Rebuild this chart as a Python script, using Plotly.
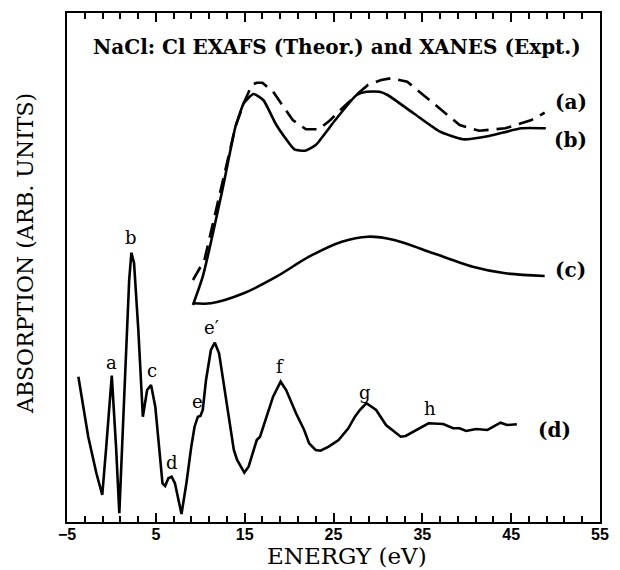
import plotly.graph_objects as go

# ---- Data (energy in eV, absorption in arbitrary units) ----
# (d) experimental XANES
d_energy = [-3.72, -2.79, -2.61, -1.69, -1.03, -0.58, 0.04, 0.52, 0.89, 1.44, 2.0, 2.25, 2.55,
            3.03, 3.28, 3.54, 4.02, 4.46, 4.94, 5.49, 5.75, 6.05, 6.41, 6.78, 7.15, 7.89, 8.44,
            8.99, 9.36, 9.73, 10.02, 10.28, 10.65, 11.2, 11.64, 12.12, 12.68, 13.41, 13.78, 14.15,
            14.96, 15.44, 16.36, 16.73, 17.46, 18.2, 19.05, 19.67, 20.78, 21.7, 22.25, 22.99,
            23.54, 24.46, 25.57, 26.67, 27.41, 27.96, 28.7, 29.8, 30.91, 31.64, 32.57, 33.12,
            34.41, 35.7, 37.35, 38.46, 39.19, 39.93, 41.04, 42.33, 43.8, 44.54, 45.64]
d_abs = [145.3, 92, 85.3, 48.7, 27, 75.3, 146.3, 75.3, 8.7, 125.3, 242, 269.3, 258.7,
         192, 142, 105.3, 132, 137, 115.3, 58.7, 38.7, 36, 43.7, 45.3, 38.7, 8, 38.7,
         75.3, 95.3, 105.3, 106, 112, 142, 172, 179.3, 168.7, 135.3, 92, 72, 62,
         49.3, 55.3, 82, 85.3, 105.3, 125.3, 140.3, 132, 108.7, 92, 78.7, 72,
         71.3, 75.3, 82, 93.7, 105.3, 112, 118.7, 112, 97, 92, 85.3, 86,
         92, 98.7, 98, 93.7, 93.7, 91, 93, 92, 99.3, 97, 97.7]

# (b) theoretical EXAFS, solid
b_energy = [9.18, 10.28, 12.49, 13.96, 14.34, 14.89, 15.99, 17.1, 18.57, 20.6, 21.8, 23.0,
            25.2, 27.6, 28.7, 30.17, 31.09, 34.01, 36.99, 39.56, 42.51, 46.14, 48.9]
b_abs = [217, 245.3, 332, 395.3, 405.3, 418.7, 428, 422, 397, 372.7, 371.3, 377,
         402, 427, 430.3, 430.3, 427, 408.7, 390.3, 382.7, 386, 393.7, 393.7]

# (a) theoretical EXAFS, dashed
a_energy = [9.18, 10.47, 12.3, 13.96, 14.89, 15.8, 16.36, 17.0, 18.2, 20.41, 21.9, 23.35,
            24.65, 25.56, 27.78, 28.88, 30.36, 31.46, 33.3, 36.25, 39.2, 41.4, 44.35, 47.3, 48.77]
a_abs = [242, 262, 332, 395.3, 418.7, 437, 439.3, 439.3, 430.3, 402, 392.7, 392.7,
         402, 410.3, 428.7, 437, 442, 443.7, 440.3, 418.7, 397, 391.3, 393.7, 402, 409.3]

# (c) theoretical, broad
c_energy = [9.18, 11.2, 14.89, 18.57, 22.25, 25.94, 28.88, 31.83, 36.25, 40.67, 44.35, 48.77]
c_abs = [218.7, 218.7, 228.7, 245.3, 265.3, 280.3, 285.3, 282, 268.7, 255.3, 248.7, 246]

# peak labels of the XANES curve
peak_labels = ["a", "b", "c", "d", "e", "e′", "f", "g", "h"]
peak_x = [0.04, 2.25, 4.57, 6.78, 9.73, 11.28, 18.93, 28.59, 35.88]
peak_y = [160, 285, 152, 60, 121, 195, 156, 130, 114]

# curve labels
curve_labels = ["(a)", "(b)", "(c)", "(d)"]
curve_label_x = [51.72, 51.72, 51.72, 49.87]
curve_label_y = [420, 382, 252, 92]

title_text = "NaCl: Cl EXAFS (Theor.) and XANES (Expt.)"
x_title = "ENERGY (eV)"
y_title = "ABSORPTION (ARB. UNITS)"
x_ticks = [-5, 5, 15, 25, 35, 45, 55]

SERIF = "DejaVu Serif"
LW = 2.6

fig = go.Figure()
fig.add_trace(go.Scatter(x=d_energy, y=d_abs, mode="lines",
                         line=dict(color="black", width=LW)))
fig.add_trace(go.Scatter(x=b_energy, y=b_abs, mode="lines",
                         line=dict(color="black", width=LW, shape="spline", smoothing=0.5)))
fig.add_trace(go.Scatter(x=a_energy, y=a_abs, mode="lines",
                         line=dict(color="black", width=LW, dash="15px,8px")))
fig.add_trace(go.Scatter(x=c_energy, y=c_abs, mode="lines", xaxis="x2",
                         line=dict(color="black", width=LW, shape="spline", smoothing=0.8)))

for t, x, y in zip(peak_labels, peak_x, peak_y):
    fig.add_annotation(x=x, y=y, xref="x", yref="y", text=t, showarrow=False,
                       font=dict(family=SERIF, size=18, color="black"))
for t, x, y in zip(curve_labels, curve_label_x, curve_label_y):
    fig.add_annotation(x=x, y=y, xref="x", yref="y", text=t, showarrow=False,
                       font=dict(family=SERIF, size=20, color="black", weight="bold"))

fig.add_annotation(x=25.4, y=475, xref="x", yref="y", text=title_text, showarrow=False,
                   font=dict(family=SERIF, size=20, color="black", weight="bold"))
fig.add_annotation(x=0.525, y=0, xref="paper", yref="paper", yshift=-34, yanchor="middle",
                   text=x_title, showarrow=False,
                   font=dict(family=SERIF, size=23, color="black"))
fig.add_annotation(x=0, y=0.5265, xref="paper", yref="paper", xshift=-42, xanchor="center",
                   yanchor="middle", textangle=-90, text=y_title, showarrow=False,
                   font=dict(family=SERIF, size=22, color="black"))

fig.update_layout(width=620, height=570, margin=dict(l=67, r=11, t=13, b=48),
                  paper_bgcolor="white", plot_bgcolor="white", showlegend=False)

axis_common = dict(range=[-5, 55], tickmode="array", tickvals=x_ticks,
                   ticks="inside", ticklen=9, tickwidth=2, tickcolor="black",
                   showline=True, linewidth=2, linecolor="black",
                   showgrid=False, zeroline=False,
                   minor=dict(ticks="inside", ticklen=6, tickwidth=2, tickcolor="black",
                              tickmode="linear", tick0=-5, dtick=2, showgrid=False))
fig.update_layout(
    xaxis=dict(**axis_common, side="bottom",
               ticktext=[str(v).replace("-", "−") for v in x_ticks],
               ticklabelstandoff=-3,
               tickfont=dict(family="Liberation Sans", size=16, color="black", weight="bold")),
    xaxis2=dict(**axis_common, side="top", overlaying="x", matches="x",
                showticklabels=False),
)
fig.update_yaxes(range=[0, 509], showticklabels=False, ticks="",
                 showline=True, linewidth=2, linecolor="black", mirror=True,
                 showgrid=False, zeroline=False)

fig.write_html("out.html")
